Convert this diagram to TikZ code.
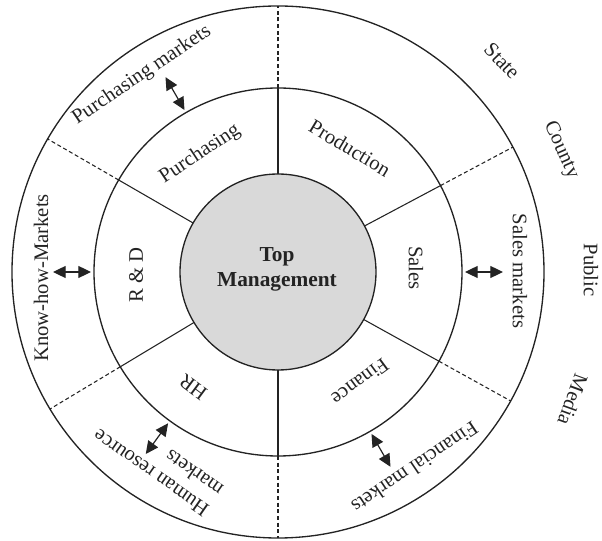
\documentclass[tikz,border=0pt]{standalone}
\usepackage{fontspec}
\setmainfont{Liberation Serif}
\usetikzlibrary{arrows.meta}
\definecolor{ink}{RGB}{35,35,35}
\definecolor{core}{RGB}{217,217,217}
\begin{document}
\begin{tikzpicture}[x=0.75pt,y=0.75pt,
  ring/.style={draw=ink, line width=1pt},
  divider/.style={draw=ink, line width=0.8pt},
  outdivider/.style={draw=ink, line width=0.8pt, dash pattern=on 3pt off 2pt},
  link/.style={draw=ink, line width=0.9pt,
    {Triangle[length=9.5pt,width=9pt]}-{Triangle[length=9.5pt,width=9pt]}},
  lbl/.style={font=\fontsize{15.5}{18.5}\selectfont, text=ink, inner sep=0pt},
]
\useasboundingbox (-278,-269) rectangle (324,272);
\coordinate (c) at (0,0);

% rings
\filldraw[fill=core, ring] (c) circle[radius=98];
\draw[ring] (c) circle[radius=184];
\draw[ring] (c) circle[radius=266];

% sector dividers: solid in the function ring, dashed in the market ring
\foreach \a in {90,28,-29,-90,211,150} {
  \draw[divider] (\a:98) -- (\a:184);
  \draw[outdivider] (\a:184) -- (\a:266);
}

% centre
\node[lbl, font=\fontsize{16}{18.75}\selectfont\bfseries, align=center] (tm) at (-1,2.5) {Top\\Management};

% function ring
\node[lbl, rotate=33.5] (pur) at (-78,118) {Purchasing};
\node[lbl, rotate=-31] (prod) at (72,124) {Production};
\node[lbl, rotate=-90] (sal) at (138,4) {Sales};
\node[lbl, rotate=-143.5] (fin) at (82,-110) {Finance};
\node[lbl, rotate=143.5] (hr) at (-85,-115) {HR};
\node[lbl, rotate=90] (rd) at (-142,-3) {R \& D};

% market ring
\node[lbl, rotate=34] (pm) at (-136,197) {Purchasing markets};
\node[lbl, rotate=-90] (sm) at (242,1) {Sales markets};
\node[lbl, rotate=-146] (fm) at (137,-196) {Financial markets};
\node[lbl, rotate=145, align=left] (hm) at (-120,-191) {Human resource\\markets};
\node[lbl, rotate=90] (km) at (-237,-6) {Know-how-Markets};

% environment
\node[lbl, rotate=-46] (st) at (224,211) {State};
\node[lbl, rotate=-66] (co) at (283,122) {County};
\node[lbl, rotate=-90] (pu) at (313,2) {Public};
\node[lbl, rotate=-110] (me) at (295,-128) {Media};

% exchange arrows between functions and markets
\foreach \n/\a in {p/120, k/180, s/0, h/234, f/-60} {
  \coordinate (\n1) at (\a:187);
  \coordinate (\n2) at (\a:225);
  \draw[link] (\n1) -- (\n2);
}
\end{tikzpicture}
\end{document}
